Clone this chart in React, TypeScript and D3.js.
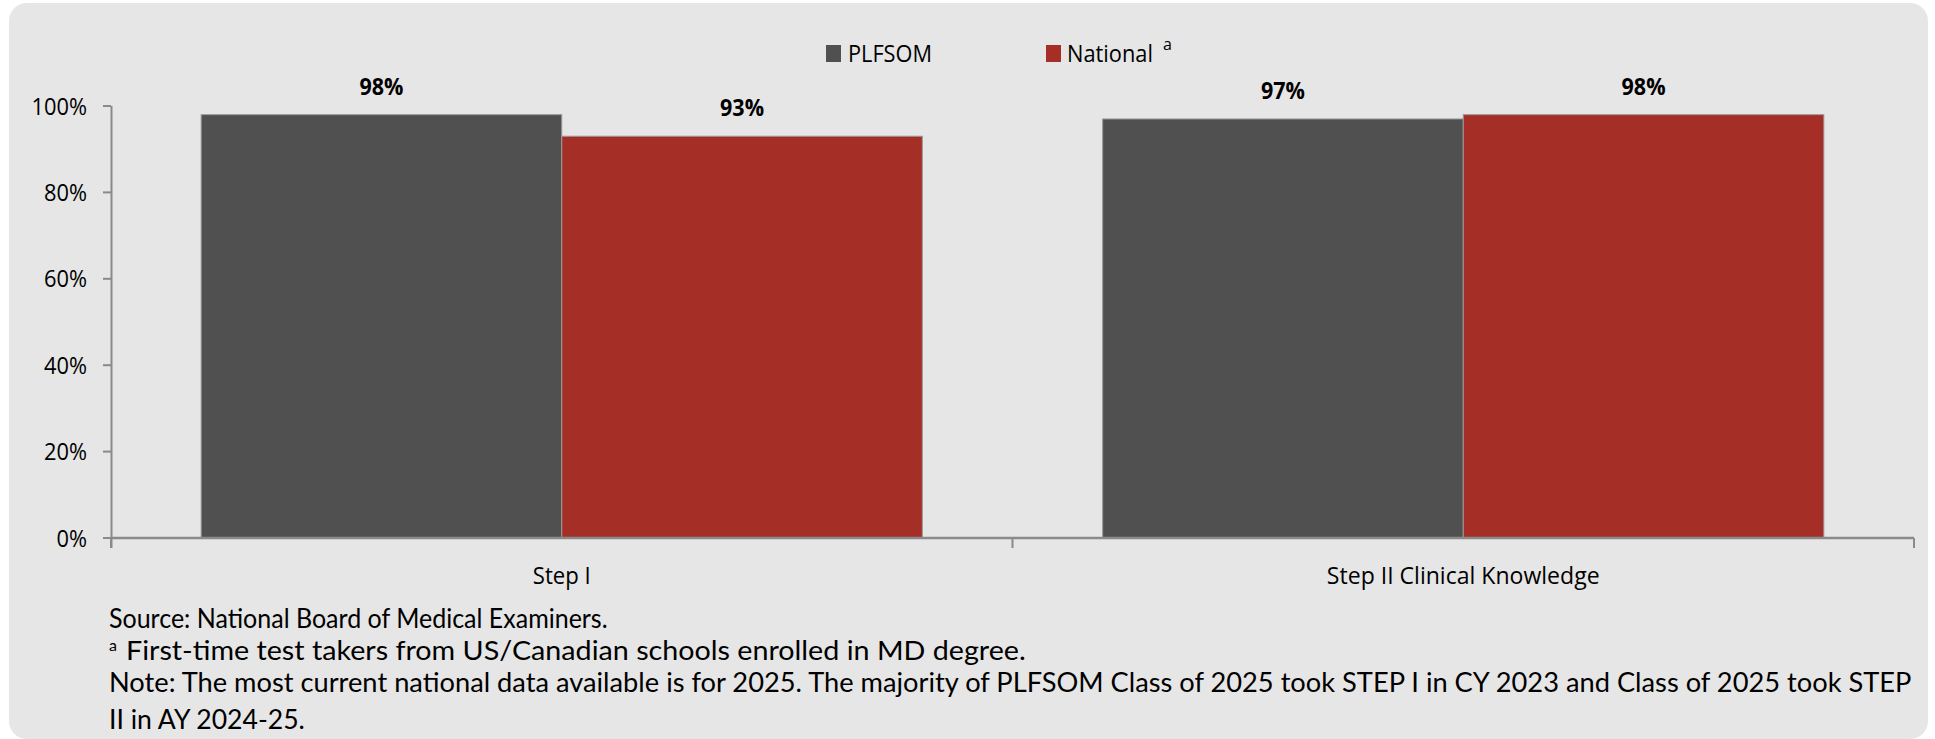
import React, { useLayoutEffect, useRef, useState } from 'react';
import * as d3 from 'd3';

// chart data
const categories = ['Step I', 'Step II Clinical Knowledge'];
const seriesNames = ['PLFSOM', 'National'];
const plfsomValues = [0.98, 0.97];
const nationalValues = [0.93, 0.98];
const yTickValues = [0, 0.2, 0.4, 0.6, 0.8, 1.0];
const footnotes = [
  'Source: National Board of Medical Examiners.',
  'First-time test takers from US/Canadian schools enrolled in MD degree.',
  'Note: The most current national data available is for 2025. The majority of PLFSOM Class of 2025 took STEP I in CY 2023 and Class of 2025 took STEP',
  'II in AY 2024-25.',
];

const WIDTH = 1935;
const HEIGHT = 739;
const colors = ['#505050', '#A52F27'];
const FONT = "'Open Sans', 'DejaVu Sans', sans-serif";
const NOTE_FONT = "Lato, 'Liberation Sans', sans-serif";
const AXIS = '#8a8a8a';

// text squeezed horizontally to a measured width (the original uses a narrow font)
function FitText({ x, y, w, anchor = 'start', children, ...rest }: any) {
  const ref = useRef<SVGTextElement>(null);
  const [k, setK] = useState(1);
  useLayoutEffect(() => {
    if (!ref.current) return;
    const len = ref.current.getComputedTextLength();
    if (len > 0) setK(w / len);
  }, [w, children]);
  return (
    <text
      ref={ref}
      x={x}
      y={y}
      textAnchor={anchor}
      transform={`translate(${x},${y}) scale(${k},1) translate(${-x},${-y})`}
      {...rest}
    >
      {children}
    </text>
  );
}

export default function App() {
  const margin = { left: 111, right: WIDTH - 1914, top: 106, bottom: HEIGHT - 538 };
  const innerW = WIDTH - margin.left - margin.right;

  const x0 = d3.scaleBand<string>()
    .domain(categories)
    .range([margin.left, margin.left + innerW])
    .paddingInner(0.2)
    .paddingOuter(0.1);

  const x1 = d3.scaleBand<string>()
    .domain(seriesNames)
    .range([0, x0.bandwidth()])
    .padding(0);

  const y = d3.scaleLinear()
    .domain([0, 1])
    .range([538, 106]);

  const fmt = d3.format('.0%');

  const rows = categories.map((c, i) => ({
    category: c,
    values: [
      { key: seriesNames[0], value: plfsomValues[i] },
      { key: seriesNames[1], value: nationalValues[i] },
    ],
  }));

  // category boundaries for the x-axis ticks
  const step = x0.step();
  const boundaries = d3.range(categories.length + 1).map(i => margin.left + i * step);

  const footLayout = [
    { x: 109, y: 628, w: 499 },
    { x: 126, y: 660, w: 900 },
    { x: 109, y: 692, w: 1803 },
    { x: 109, y: 729, w: 196 },
  ];
  const xLabelW = [58, 273];

  return (
    <svg
      width={WIDTH}
      height={HEIGHT}
      style={{ position: 'absolute', left: 0, top: 0, background: '#fff' }}
      fontFamily={FONT}
    >
      <rect x={9} y={3} width={1919} height={736} rx={18} fill="#E6E6E6" />

      {/* legend */}
      <g>
        <rect x={826} y={45} width={15} height={17} fill={colors[0]} />
        <FitText x={848} y={62} w={84} fontSize={24}>{seriesNames[0]}</FitText>
        <rect x={1046} y={45} width={15} height={17} fill={colors[1]} />
        <FitText x={1067} y={62} w={86} fontSize={24}>{seriesNames[1]}</FitText>
        <text x={1163} y={50} fontSize={16}>a</text>
      </g>

      {/* bars */}
      {rows.map(r => (
        <g key={r.category} transform={`translate(${x0(r.category)},0)`}>
          {r.values.map((v, j) => (
            <g key={v.key}>
              <rect
                x={x1(v.key)}
                y={y(v.value)}
                width={x1.bandwidth()}
                height={y(0) - y(v.value)}
                fill={colors[j]}
                stroke="#9a9a9a"
                strokeWidth={1}
              />
              <FitText
                x={(x1(v.key) || 0) + x1.bandwidth() / 2}
                y={y(v.value) - 20}
                w={44}
                anchor="middle"
                fontSize={24}
                fontWeight="bold"
              >
                {fmt(v.value)}
              </FitText>
            </g>
          ))}
        </g>
      ))}

      {/* y axis */}
      <line x1={margin.left + 0.5} x2={margin.left + 0.5} y1={y(1)} y2={548} stroke={AXIS} strokeWidth={2} />
      {yTickValues.map(t => (
        <g key={t}>
          <line x1={103} x2={margin.left} y1={y(t)} y2={y(t)} stroke={AXIS} strokeWidth={2} />
          <g transform={`translate(87,${y(t) + 8.5}) scale(0.91,1)`}>
            <text textAnchor="end" fontSize={24}>{fmt(t)}</text>
          </g>
        </g>
      ))}

      {/* x axis */}
      <line x1={margin.left} x2={1914} y1={y(0)} y2={y(0)} stroke={AXIS} strokeWidth={2.5} />
      {boundaries.map((b, i) => (
        <line key={i} x1={b} x2={b} y1={y(0)} y2={548} stroke={AXIS} strokeWidth={2} />
      ))}
      {categories.map((c, i) => (
        <FitText
          key={c}
          x={(x0(c) || 0) + x0.bandwidth() / 2}
          y={584}
          w={xLabelW[i]}
          anchor="middle"
          fontSize={24}
        >
          {c}
        </FitText>
      ))}

      {/* footnotes */}
      <g fontFamily={NOTE_FONT}>
        <text x={109} y={651} fontSize={16}>a</text>
        {footnotes.map((f, i) => (
          <FitText
            key={i}
            x={footLayout[i].x}
            y={footLayout[i].y}
            w={footLayout[i].w}
            fontSize={26.5}
          >
            {f}
          </FitText>
        ))}
      </g>
    </svg>
  );
}
